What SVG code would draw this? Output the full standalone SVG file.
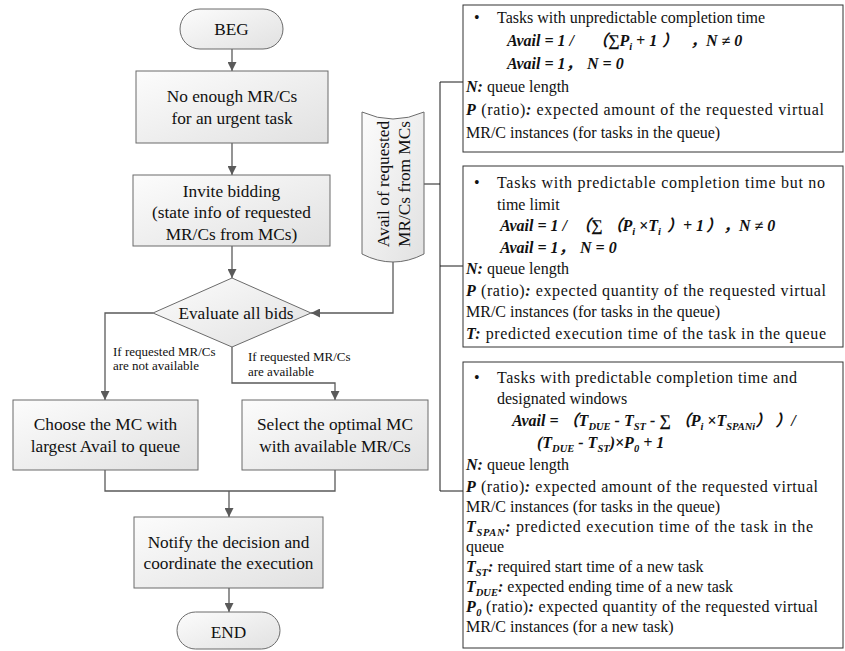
<svg xmlns="http://www.w3.org/2000/svg" width="845" height="651" viewBox="0 0 845 651">
<defs>
<linearGradient id="g" x1="0" y1="0" x2="1" y2="1">
<stop offset="0" stop-color="#fcfcfc"/>
<stop offset="1" stop-color="#e1e1e1"/>
</linearGradient>
<marker id="a" viewBox="0 0 10 10" refX="10" refY="5" markerWidth="9" markerHeight="9" markerUnits="userSpaceOnUse" orient="auto">
<path d="M0,0 L10,5 L0,10 z" fill="#5a5a5a"/>
</marker>
<style>
.n{fill:url(#g);stroke:#6b6b6b;stroke-width:1}
.t{font-family:'Liberation Serif','Times New Roman',serif;font-size:17.3px;fill:#111;text-anchor:middle}
.s{font-family:'Liberation Serif','Times New Roman',serif;font-size:13px;fill:#111}
.r{font-family:'Liberation Serif','Times New Roman','Noto Sans CJK SC',serif;font-size:16px;fill:#111}
.bi{font-weight:bold;font-style:italic}
.sb{font-size:10.5px;font-weight:bold;font-style:italic}
.c{fill:none;stroke:#5a5a5a;stroke-width:1.3}
.k{fill:none;stroke:#1a1a1a;stroke-width:1}
.b{fill:#fff;stroke:#333;stroke-width:1}
</style>
</defs>

<g id="connectors">
<line class="c" x1="232" y1="49" x2="232" y2="71" marker-end="url(#a)"/>
<line class="c" x1="232" y1="143" x2="232" y2="175" marker-end="url(#a)"/>
<line class="c" x1="232" y1="246" x2="232" y2="278" marker-end="url(#a)"/>
<polyline class="c" points="153,313 105,313 105,400" marker-end="url(#a)"/>
<polyline class="c" points="232,347 232,383 335,383 335,400" marker-end="url(#a)"/>
<polyline class="c" points="393,262 393,313 311,313" marker-end="url(#a)"/>
<polyline class="c" points="105,470 105,491 335,491 335,470"/>
<line class="c" x1="229" y1="491" x2="229" y2="517" marker-end="url(#a)"/>
<line class="c" x1="229" y1="588" x2="229" y2="612" marker-end="url(#a)"/>
<line class="k" x1="424" y1="184" x2="440" y2="184"/>
<polyline class="k" points="463,82 440,82 440,491 463,491"/>
<line class="k" x1="440" y1="266" x2="463" y2="266"/>
<text class="s" x="113" y="356">If requested MR/Cs</text>
<text class="s" x="113" y="370">are not available</text>
<text class="s" x="248" y="361">If requested MR/Cs</text>
<text class="s" x="248" y="376">are available</text>
</g>

<g id="beg">
<rect class="n" x="180" y="9" width="103" height="40" rx="20"/>
<text class="t" x="231.5" y="35">BEG</text>
</g>

<g id="no-enough">
<rect class="n" x="136" y="71" width="192" height="72"/>
<text class="t" x="232" y="102">No enough MR/Cs</text>
<text class="t" x="232" y="124">for an urgent task</text>
</g>

<g id="invite">
<rect class="n" x="133" y="175" width="197" height="71"/>
<text class="t" x="231.5" y="197">Invite bidding</text>
<text class="t" x="231.5" y="218">(state info of requested</text>
<text class="t" x="231.5" y="240">MR/Cs from MCs)</text>
</g>

<g id="evaluate">
<polygon class="n" points="232,278 311,313 232,347 153,313"/>
<text class="t" x="236" y="319">Evaluate all bids</text>
</g>

<g id="choose">
<rect class="n" x="13" y="400" width="185" height="70"/>
<text class="t" x="105.5" y="430">Choose the MC with</text>
<text class="t" x="105.5" y="452">largest Avail to queue</text>
</g>

<g id="select">
<rect class="n" x="242" y="400" width="186" height="70"/>
<text class="t" x="335" y="430">Select the optimal MC</text>
<text class="t" x="335" y="452">with available MR/Cs</text>
</g>

<g id="notify">
<rect class="n" x="134" y="517" width="189" height="71"/>
<text class="t" x="228.5" y="548">Notify the decision and</text>
<text class="t" x="228.5" y="569">coordinate the execution</text>
</g>

<g id="end">
<rect class="n" x="177" y="612" width="103" height="37" rx="18.5"/>
<text class="t" x="228.5" y="638">END</text>
</g>

<g id="avail-scroll">
<path class="n" d="M362,112 Q393,126 424,112 L424,254 Q393,270 362,254 Z"/>
<text class="t" transform="translate(388.5,184) rotate(-90)">Avail of requested</text>
<text class="t" transform="translate(409.5,184) rotate(-90)">MR/Cs from MCs</text>
</g>

<g id="case-unpredictable">
<rect class="b" x="463" y="5" width="380" height="147"/>
<text class="r" x="474" y="23">•</text>
<text class="r" x="497" y="23">Tasks with unpredictable completion time</text>
<text class="r bi" y="46"><tspan x="507">Avail = 1 /</tspan><tspan x="592">（∑P</tspan><tspan class="sb" dy="4">i</tspan><tspan dy="-4"> + 1</tspan><tspan x="662">）</tspan><tspan x="690">，N ≠ 0</tspan></text>
<text class="r bi" y="69"><tspan x="507">Avail = 1，</tspan><tspan x="587">N = 0</tspan></text>
<text class="r" x="466" y="92"><tspan class="bi">N:</tspan> queue length</text>
<text class="r" x="466" y="115" textLength="358" lengthAdjust="spacing"><tspan class="bi">P</tspan> (ratio)<tspan class="bi">:</tspan> expected amount of the requested virtual</text>
<text class="r" x="466" y="138">MR/C instances (for tasks in the queue)</text>
</g>

<g id="case-no-limit">
<rect class="b" x="463" y="166" width="380" height="181"/>
<text class="r" x="474" y="188">•</text>
<text class="r" x="497" y="188" textLength="328" lengthAdjust="spacing">Tasks with predictable completion time but no</text>
<text class="r" x="497" y="209.5">time limit</text>
<text class="r bi" y="231"><tspan x="500">Avail = 1 /</tspan><tspan x="575">（∑ （P</tspan><tspan class="sb" dy="4">i</tspan><tspan dy="-4"> ×T</tspan><tspan class="sb" dy="4">i</tspan><tspan dy="-4" x="667">）+ 1</tspan><tspan x="706">）</tspan><tspan x="723">，N ≠ 0</tspan></text>
<text class="r bi" y="252.5"><tspan x="500">Avail = 1，</tspan><tspan x="580">N = 0</tspan></text>
<text class="r" x="466" y="274"><tspan class="bi">N:</tspan> queue length</text>
<text class="r" x="466" y="295.5" textLength="360" lengthAdjust="spacing"><tspan class="bi">P</tspan> (ratio)<tspan class="bi">:</tspan> expected quantity of the requested virtual</text>
<text class="r" x="466" y="317">MR/C instances (for tasks in the queue)</text>
<text class="r" x="466" y="338.5" textLength="360" lengthAdjust="spacing"><tspan class="bi">T:</tspan> predicted execution time of the task in the queue</text>
</g>

<g id="case-windows">
<rect class="b" x="463" y="362" width="380" height="286"/>
<text class="r" x="474" y="383">•</text>
<text class="r" x="497" y="383" textLength="300" lengthAdjust="spacing">Tasks with predictable completion time and</text>
<text class="r" x="497" y="404">designated windows</text>
<text class="r bi" x="512" y="426">Avail = （T<tspan class="sb" dy="4">DUE</tspan><tspan dy="-4"> - T</tspan><tspan class="sb" dy="4">ST</tspan><tspan dy="-4"> - ∑ （P</tspan><tspan class="sb" dy="4">i</tspan><tspan dy="-4"> ×T</tspan><tspan class="sb" dy="4">SPANi</tspan><tspan dy="-4">） ）/</tspan></text>
<text class="r bi" x="537" y="448">(T<tspan class="sb" dy="4">DUE</tspan><tspan dy="-4"> - T</tspan><tspan class="sb" dy="4">ST</tspan><tspan dy="-4">)×P</tspan><tspan class="sb" dy="4">0</tspan><tspan dy="-4"> + 1</tspan></text>
<text class="r" x="466" y="470"><tspan class="bi">N:</tspan> queue length</text>
<text class="r" x="466" y="492" textLength="352" lengthAdjust="spacing"><tspan class="bi">P</tspan> (ratio)<tspan class="bi">:</tspan> expected amount of the requested virtual</text>
<text class="r" x="466" y="512">MR/C instances (for tasks in the queue)</text>
<text class="r" x="466" y="532" textLength="347" lengthAdjust="spacing"><tspan class="bi">T</tspan><tspan class="sb" dy="4">SPAN</tspan><tspan class="bi" dy="-4">:</tspan> predicted execution time of the task in the</text>
<text class="r" x="466" y="552">queue</text>
<text class="r" x="466" y="572"><tspan class="bi">T</tspan><tspan class="sb" dy="4">ST</tspan><tspan class="bi" dy="-4">:</tspan> required start time of a new task</text>
<text class="r" x="466" y="592"><tspan class="bi">T</tspan><tspan class="sb" dy="4">DUE</tspan><tspan class="bi" dy="-4">:</tspan> expected ending time of a new task</text>
<text class="r" x="466" y="612" textLength="352" lengthAdjust="spacing"><tspan class="bi">P</tspan><tspan class="sb" dy="4">0</tspan><tspan dy="-4"> (ratio)</tspan><tspan class="bi">:</tspan> expected quantity of the requested virtual</text>
<text class="r" x="466" y="632">MR/C instances (for a new task)</text>
</g>
</svg>
